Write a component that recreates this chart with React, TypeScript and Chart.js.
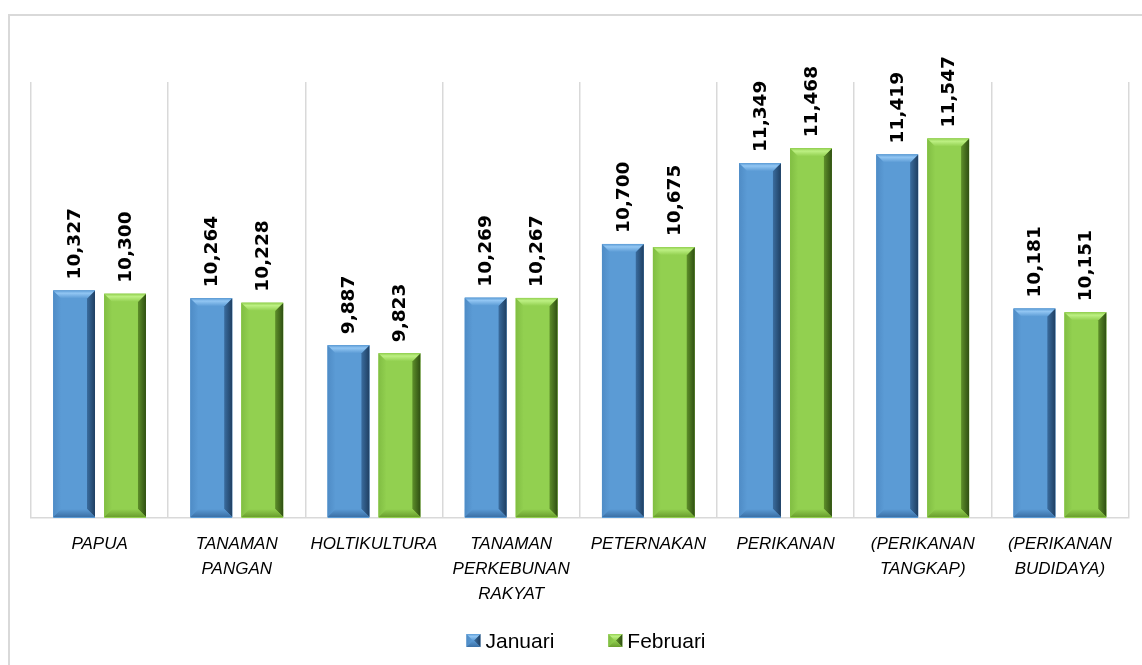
import React, { useEffect, useRef } from 'react';
import { Chart, registerables } from 'chart.js';

Chart.register(...registerables);

const categories: string[][] = [
  ['PAPUA'],
  ['TANAMAN', 'PANGAN'],
  ['HOLTIKULTURA'],
  ['TANAMAN', 'PERKEBUNAN', 'RAKYAT'],
  ['PETERNAKAN'],
  ['PERIKANAN'],
  ['(PERIKANAN', 'TANGKAP)'],
  ['(PERIKANAN', 'BUDIDAYA)'],
];
const januari = [10327, 10264, 9887, 10269, 10700, 11349, 11419, 10181];
const februari = [10300, 10228, 9823, 10267, 10675, 11468, 11547, 10151];
const seriesNames = ['Januari', 'Februari'];
const yMin = 8500;
const yMax = 12000;

type Pal = { face: string; top: string; left: string; right: string; rightEdge: string; bottom: string };
const palettes: Pal[] = [
  { face: '#5B9BD5', top: '#92C6F3', left: '#4F8CC6', right: '#3A6C9E', rightEdge: '#1F3F62', bottom: '#3B70A6' },
  { face: '#92D050', top: '#BDF083', left: '#81BE43', right: '#5E8F2A', rightEdge: '#2F4F12', bottom: '#6A9E2E' },
];

function drawBevel(ctx: CanvasRenderingContext2D, l: number, t: number, r: number, b: number, p: Pal, sIn: number) {
  const w = r - l;
  const h = b - t;
  const s = Math.min(sIn, w / 2, h / 2);
  ctx.save();
  ctx.fillStyle = p.face;
  ctx.fillRect(l, t, w, h);
  let g = ctx.createLinearGradient(l, 0, l + s, 0);
  g.addColorStop(0, p.left);
  g.addColorStop(1, p.face);
  ctx.fillStyle = g;
  ctx.beginPath();
  ctx.moveTo(l, t); ctx.lineTo(l + s, t + s); ctx.lineTo(l + s, b - s); ctx.lineTo(l, b); ctx.closePath(); ctx.fill();
  g = ctx.createLinearGradient(r - s, 0, r, 0);
  g.addColorStop(0, p.right);
  g.addColorStop(1, p.rightEdge);
  ctx.fillStyle = g;
  ctx.beginPath();
  ctx.moveTo(r, t); ctx.lineTo(r - s, t + s); ctx.lineTo(r - s, b - s); ctx.lineTo(r, b); ctx.closePath(); ctx.fill();
  g = ctx.createLinearGradient(0, b - s, 0, b);
  g.addColorStop(0, p.face);
  g.addColorStop(1, p.bottom);
  ctx.fillStyle = g;
  ctx.beginPath();
  ctx.moveTo(l, b); ctx.lineTo(r, b); ctx.lineTo(r - s, b - s); ctx.lineTo(l + s, b - s); ctx.closePath(); ctx.fill();
  g = ctx.createLinearGradient(0, t, 0, t + s);
  g.addColorStop(0, p.face);
  g.addColorStop(0.35, p.top);
  g.addColorStop(1, p.face);
  ctx.fillStyle = g;
  ctx.beginPath();
  ctx.moveTo(l, t); ctx.lineTo(r, t); ctx.lineTo(r - s, t + s); ctx.lineTo(l + s, t + s); ctx.closePath(); ctx.fill();
  ctx.restore();
}

const fmt = (v: number) => v.toLocaleString('en-US');

const barDecor = {
  id: 'barDecor',
  afterDatasetsDraw(chart: any) {
    const ctx: CanvasRenderingContext2D = chart.ctx;
    const bottom = chart.chartArea.bottom - 1;
    chart.data.datasets.forEach((ds: any, di: number) => {
      const meta = chart.getDatasetMeta(di);
      meta.data.forEach((el: any, i: number) => {
        const { x, y, base, width } = el.getProps(['x', 'y', 'base', 'width'], true);
        drawBevel(ctx, x - width / 2, y, x + width / 2, Math.min(base, bottom), palettes[di], 8);
        ctx.save();
        ctx.translate(x, y - 11);
        ctx.rotate(-Math.PI / 2);
        ctx.font = 'bold 18.5px "DejaVu Sans"';
        ctx.fillStyle = '#000';
        ctx.textAlign = 'left';
        ctx.textBaseline = 'middle';
        ctx.fillText(fmt(ds.data[i]), 0, 1);
        ctx.restore();
      });
    });
  },
};

const customLegend = {
  id: 'customLegend',
  afterDraw(chart: any) {
    const ctx: CanvasRenderingContext2D = chart.ctx;
    ctx.save();
    ctx.font = '21px "Liberation Sans"';
    const box = 14;
    const gapText = 5;
    const gapItem = 54;
    const widths = seriesNames.map((n) => ctx.measureText(n).width);
    const total = widths.reduce((a, w) => a + box + gapText + w, 0) + gapItem * (seriesNames.length - 1);
    let x = 586 - total / 2;
    const yc = 641;
    seriesNames.forEach((n, i) => {
      drawBevel(ctx, x, yc - 7, x + box, yc + 6, palettes[i], 7);
      x += box + gapText;
      ctx.fillStyle = '#000';
      ctx.textAlign = 'left';
      ctx.textBaseline = 'middle';
      ctx.fillText(n, x, yc + 1);
      x += widths[i] + gapItem;
    });
    ctx.restore();
  },
};

export default function App() {
  const ref = useRef<HTMLCanvasElement | null>(null);
  useEffect(() => {
    if (!ref.current) return;
    const chart = new Chart(ref.current, {
      type: 'bar',
      data: {
        labels: categories,
        datasets: [
          { label: seriesNames[0], data: januari, backgroundColor: palettes[0].face, base: yMin },
          { label: seriesNames[1], data: februari, backgroundColor: palettes[1].face, base: yMin },
        ],
      },
      options: {
        responsive: false,
        animation: false,
        events: [],
        layout: { padding: { left: 31, right: 13.5, top: 82, bottom: 0 } },
        datasets: { bar: { categoryPercentage: 0.743, barPercentage: 0.82 } },
        plugins: { legend: { display: false }, tooltip: { enabled: false } },
        scales: {
          x: {
            grid: { display: true, offset: true, color: '#d9d9d9', lineWidth: 1.5, drawTicks: false },
            border: { display: true, color: '#d9d9d9', width: 1.5 },
            ticks: {
              color: '#000',
              padding: 14,
              maxRotation: 0,
              autoSkip: false,
              font: { family: '"Liberation Sans"', size: 17, style: 'italic', lineHeight: 25 / 17 },
            },
            afterFit(scale: any) {
              scale.height = 147;
            },
          },
          y: { display: false, beginAtZero: false, min: yMin, max: yMax },
        },
      },
      plugins: [barDecor, customLegend],
    });
    return () => chart.destroy();
  }, []);
  return (
    <div style={{ position: 'fixed', left: 0, top: 0, width: 1142, height: 665, overflow: 'hidden', background: '#fff' }}>
      <div style={{ position: 'absolute', left: 8, top: 14, width: 1200, height: 700, border: '2px solid #d9d9d9', boxSizing: 'border-box' }} />
      <canvas ref={ref} width={1142} height={665} style={{ position: 'absolute', left: 0, top: 0, width: 1142, height: 665 }} />
    </div>
  );
}
